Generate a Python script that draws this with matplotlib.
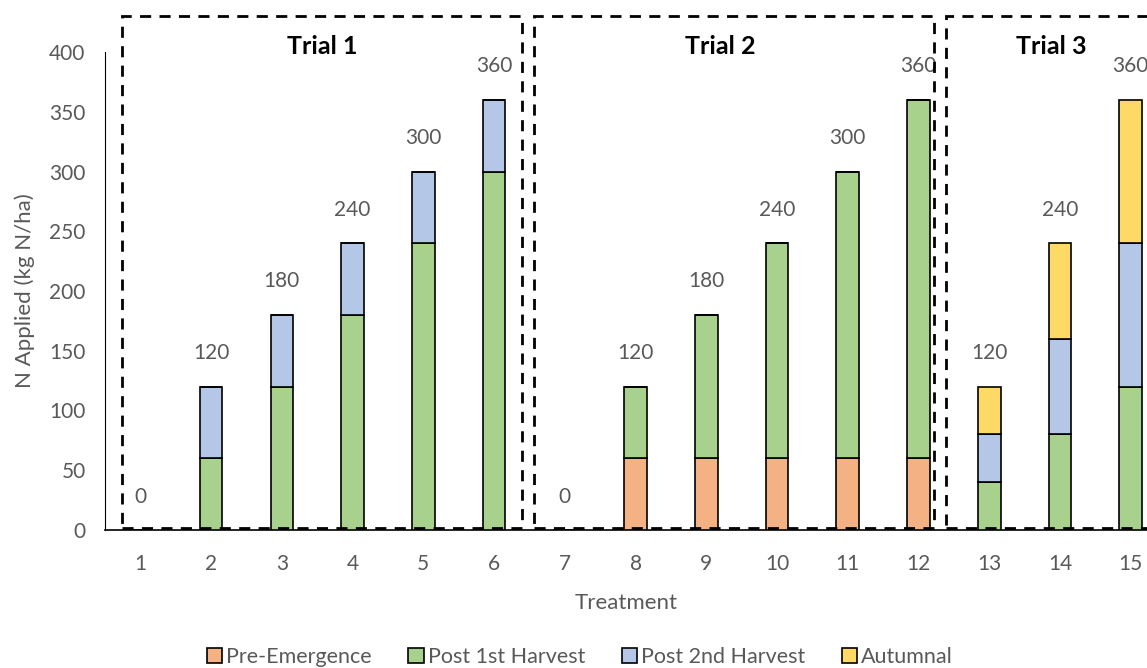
import matplotlib.pyplot as plt
import numpy as np
from matplotlib.patches import Rectangle

plt.rcParams['font.family'] = ['Lato', 'DejaVu Sans']

treatments = list(range(1, 16))
pre_emergence = [0, 0, 0, 0, 0, 0, 0, 60, 60, 60, 60, 60, 0, 0, 0]
post_1st = [0, 60, 120, 180, 240, 300, 0, 60, 120, 180, 240, 300, 40, 80, 120]
post_2nd = [0, 60, 60, 60, 60, 60, 0, 0, 0, 0, 0, 0, 40, 80, 120]
autumnal = [0, 0, 0, 0, 0, 0, 0, 0, 0, 0, 0, 0, 40, 80, 120]
trial_names = ["Trial 1", "Trial 2", "Trial 3"]

series = [
    ("Pre-Emergence", pre_emergence, "#F4B183"),
    ("Post 1st Harvest", post_1st, "#A9D18E"),
    ("Post 2nd Harvest", post_2nd, "#B4C7E7"),
    ("Autumnal", autumnal, "#FFD966"),
]

fig = plt.figure(figsize=(11.47, 6.68), dpi=100)
ax = fig.add_axes([105 / 1147, 1 - 530 / 668, 1 - 105 / 1147, (530 - 52) / 668])

x = np.array(treatments)
bottom = np.zeros(len(x))
for name, vals, color in series:
    vals = np.array(vals, dtype=float)
    ax.bar(x, vals, width=0.32, bottom=bottom, color=color, edgecolor="black",
           linewidth=1.2, label=name, zorder=3)
    bottom += vals

grey = "#595959"
for xi, tot in zip(x, bottom):
    ax.text(xi, tot + 28, f"{int(tot)}", ha="center", va="center", fontsize=15, color=grey)

# dashed boxes around the trials (third one runs off the right edge)
boxes = [(0.745, 6.40), (6.56, 12.22), (12.39, 16.5)]
title_x = [3.57, 9.2, 13.87]
for (x0, x1), tx, name in zip(boxes, title_x, trial_names):
    ax.add_patch(Rectangle((x0, 1.5), x1 - x0, 430 - 1.5, fill=False, edgecolor="black",
                           linestyle=(0, (4, 3)), linewidth=2, clip_on=False, zorder=4))
    ax.text(tx, 405, name, ha="center", va="center", fontsize=18, fontweight="bold", color="black")

ax.set_xlim(0.5, 15.23)
ax.set_ylim(0, 400)
ax.set_xticks(x)
ax.set_xticklabels([str(t) for t in treatments])
ax.set_yticks(np.arange(0, 401, 50))
ax.tick_params(axis="x", length=0, labelsize=15, labelcolor=grey, pad=17)
ax.tick_params(axis="y", length=0, labelsize=15, labelcolor=grey, pad=14)
ax.spines["top"].set_visible(False)
ax.spines["right"].set_visible(False)
ax.spines["left"].set_color("black")
ax.spines["bottom"].set_color("black")
ax.spines["bottom"].set_linewidth(1.2)
ax.set_xlabel("Treatment", fontsize=16, color=grey, labelpad=14)
ax.set_ylabel("N Applied (kg N/ha)", fontsize=16, color=grey, labelpad=10)

fig.legend(loc="center", bbox_to_anchor=(580 / 1147, 1 - 657 / 668), ncol=4, frameon=False,
           fontsize=15.5, labelcolor=grey, handlelength=0.7, handleheight=0.7,
           handletextpad=0.2, columnspacing=1.7)

fig.savefig("out.png", dpi=100)
